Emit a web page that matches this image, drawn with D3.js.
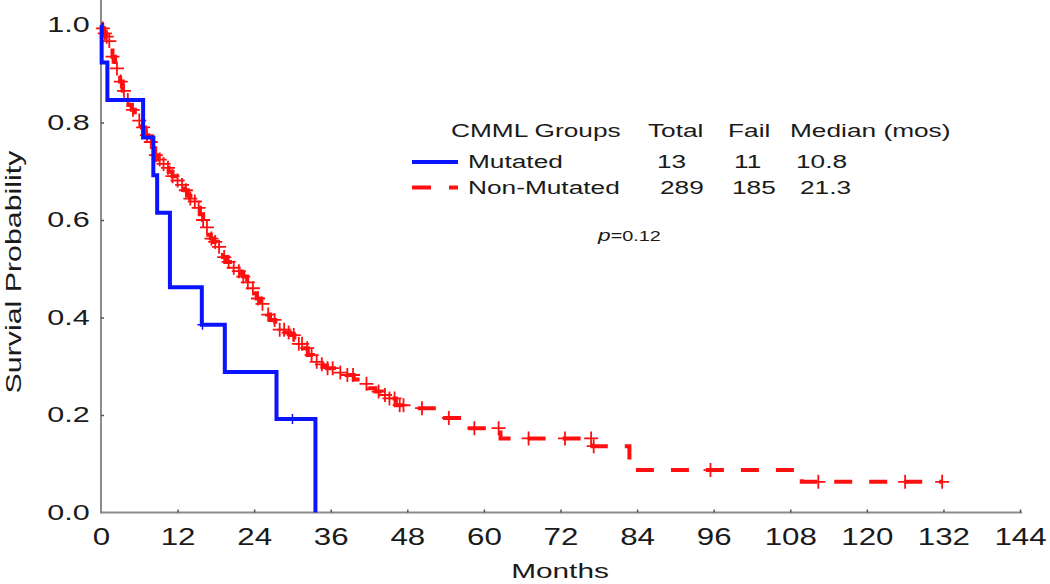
<!DOCTYPE html>
<html>
<head>
<meta charset="utf-8">
<script src="https://cdn.jsdelivr.net/npm/d3@7"></script>
<style>
  body { margin: 0; background: #fff; }
  svg text { font-family: "Liberation Sans", Arial, sans-serif; fill: #1a1a1a; }
</style>
</head>
<body>
<div id="chart"></div>
<script>
'use strict'

// Mutated group (blue), Kaplan-Meier steps
const mutTimes = [0, 0.1, 1.0, 6.6, 8.2, 8.8, 10.8, 15.8, 19.4, 27.5, 33.6]
const mutSurv = [1.0, 0.923, 0.846, 0.769, 0.692, 0.615, 0.462, 0.385, 0.288, 0.192, 0.0]
const mutCensor = [15.9, 30.0]

// Non-Mutated group (red)
const nonTimes = [0, 0.2, 0.5, 0.8, 1.1, 1.4, 1.8, 2.2, 2.6, 3.0, 3.4, 3.8, 4.3, 4.8, 5.3, 5.8,
  6.4, 6.9, 7.4, 8.0, 8.5, 9.0, 9.6, 10.1, 10.6, 11.2, 11.9, 12.6, 13.1, 13.6, 14.0, 14.5,
  15.0, 15.5, 16.0, 16.4, 16.8, 17.2, 17.6, 18.1, 18.6, 19.1, 19.7, 20.2, 20.7, 21.3, 21.8,
  22.3, 22.9, 23.5, 24.0, 24.4, 25.0, 25.5, 26.0, 26.5, 27.3, 28.0, 28.8, 29.6, 30.3, 31.0,
  31.7, 32.4, 33.2, 34.0, 34.7, 35.4, 36.5, 37.5, 38.5, 39.6, 40.8, 41.9, 43.0, 44.0, 44.8,
  46.2, 47.5, 52.5, 57.0, 62.6, 77.0, 82.8, 109.8, 131.8]
const nonSurv = [1.0, 0.993, 0.983, 0.976, 0.967, 0.959, 0.935, 0.911, 0.898, 0.884, 0.865, 0.846,
  0.836, 0.826, 0.815, 0.804, 0.790, 0.774, 0.760, 0.747, 0.733, 0.724, 0.715, 0.707, 0.699,
  0.690, 0.681, 0.672, 0.661, 0.650, 0.644, 0.638, 0.625, 0.612, 0.600, 0.585, 0.570, 0.562,
  0.555, 0.545, 0.535, 0.524, 0.514, 0.508, 0.502, 0.495, 0.490, 0.484, 0.472, 0.460, 0.450,
  0.439, 0.428, 0.418, 0.406, 0.395, 0.385, 0.375, 0.369, 0.364, 0.355, 0.346, 0.337, 0.323,
  0.309, 0.304, 0.300, 0.296, 0.292, 0.287, 0.282, 0.273, 0.264, 0.255, 0.248, 0.241, 0.234,
  0.220, 0.214, 0.194, 0.173, 0.152, 0.136, 0.087, 0.063, 0.063]
const nonCensor = [0.3, 0.6, 0.9, 1.3, 1.8, 2.5, 3.1, 3.6, 4.2, 5.0, 6.0, 6.6, 7.2, 7.8, 8.6,
  9.2, 9.8, 10.5, 11.2, 12.0, 12.7, 13.3, 14.0, 14.7, 15.3, 16.0, 16.6, 17.3, 17.9, 18.5,
  19.3, 20.0, 20.8, 21.6, 22.3, 23.0, 23.8, 24.6, 25.3, 26.2, 27.2, 28.0, 28.7, 29.4, 30.2,
  31.0, 31.5, 32.3, 33.0, 33.8, 34.6, 35.5, 36.3, 37.5, 38.6, 39.5, 41.6, 43.5, 44.5, 45.2,
  46.0, 46.8, 47.4, 50.3, 54.5, 58.5, 62.3, 67.0, 72.7, 76.8, 77.2, 95.5, 112.4, 126.0, 131.8]

const xTicks = [0, 12, 24, 36, 48, 60, 72, 84, 96, 108, 120, 132, 144]
const yTicks = [0, 0.2, 0.4, 0.6, 0.8, 1.0]

const legendHeader = ['CMML Groups', 'Total', 'Fail', 'Median (mos)']
const groups = ['Mutated', 'Non-Mutated']
const totals = [13, 289]
const fails = [11, 185]
const medians = ['10.8', '21.3']
const pValue = '0.12'

const width = 1050
const height = 584
const blue = '#0a14ff'
const red = '#ff1010'
const axisColor = '#8c8c8c'
const stretch = 1.42 // the source type is set wide

const svg = d3.select('#chart')
  .append('svg')
  .attr('width', width)
  .attr('height', height)

const x = d3.scaleLinear().domain([0, 144]).range([101, 1020])
const y = d3.scaleLinear().domain([0, 1]).range([512.5, 25])

const addText = (g, px, py, str, size, anchor) => g.append('text')
  .attr('transform', `translate(${px},${py}) scale(${stretch},1)`)
  .attr('font-size', size)
  .attr('text-anchor', anchor || 'start')
  .text(str)

// axes
const xAxis = svg.append('g')
  .attr('transform', `translate(0,${y(0)})`)
  .call(d3.axisBottom(x).tickValues(xTicks).tickSizeInner(-3).tickSizeOuter(0))
xAxis.select('.domain').attr('stroke', axisColor).attr('stroke-width', 2)
  .attr('d', `M${x(0)},0H${x(144) + 2}`)
xAxis.selectAll('.tick line').attr('stroke', '#555').attr('stroke-width', 1.5)
xAxis.selectAll('.tick text')
  .attr('font-size', 23)
  .attr('y', 32.5)
  .attr('dy', null)
  .attr('transform', 'scale(1.36,1)')

const yAxis = svg.append('g')
  .attr('transform', `translate(${x(0)},0)`)
  .call(d3.axisLeft(y).tickValues(yTicks).tickFormat(d3.format('.1f'))
    .tickSizeInner(-3).tickSizeOuter(0))
yAxis.select('.domain').attr('stroke', axisColor).attr('stroke-width', 2)
  .attr('d', `M0,${y(0) + 1}V0`)
yAxis.selectAll('.tick line').attr('stroke', '#555').attr('stroke-width', 1.5)
yAxis.selectAll('.tick text')
  .attr('font-size', 21.5)
  .attr('x', -8)
  .attr('transform', 'scale(1.42,1)')

svg.selectAll('.tick line').filter(d => d === 0).remove()

// axis titles
addText(svg, 560, 578, 'Months', 21, 'middle')

svg.append('text')
  .attr('transform', `translate(21,${272}) rotate(-90) scale(1.38,1)`)
  .attr('text-anchor', 'middle')
  .attr('font-size', 22)
  .text('Survial Probability')

// curves
const line = d3.line()
  .x(d => x(d[0]))
  .y(d => y(d[1]))
  .curve(d3.curveStepAfter)

const survAt = (times, surv, t) => {
  const i = d3.bisectRight(times, t) - 1
  return surv[Math.max(0, i)]
}

const censorPath = s => `M${-s},0H${s}M0,${-s}V${s}`

svg.append('path')
  .datum(d3.zip(nonTimes, nonSurv))
  .attr('d', line)
  .attr('fill', 'none')
  .attr('stroke', red)
  .attr('stroke-width', 4)
  .attr('stroke-dasharray', '18,17')

svg.append('g').selectAll('path')
  .data(nonCensor)
  .enter()
  .append('path')
  .attr('transform', d => `translate(${x(d)},${y(survAt(nonTimes, nonSurv, d))})`)
  .attr('d', censorPath(7))
  .attr('stroke', red)
  .attr('stroke-width', 1.8)

svg.append('path')
  .datum(d3.zip(mutTimes, mutSurv))
  .attr('d', line)
  .attr('fill', 'none')
  .attr('stroke', blue)
  .attr('stroke-width', 4)

svg.append('g').selectAll('path')
  .data(mutCensor)
  .enter()
  .append('path')
  .attr('transform', d => `translate(${x(d)},${y(survAt(mutTimes, mutSurv, d))})`)
  .attr('d', censorPath(5))
  .attr('stroke', blue)
  .attr('stroke-width', 1.5)

// legend
const legend = svg.append('g')
const colX = [451, 648, 728, 790]
legendHeader.forEach((h, i) => addText(legend, colX[i], 137, h, 18.5))

const rowY = [168, 193.5]
groups.forEach((grp, i) => {
  legend.append('line')
    .attr('x1', 412).attr('x2', 458)
    .attr('y1', rowY[i] - 6).attr('y2', rowY[i] - 6)
    .attr('stroke', i === 0 ? blue : red)
    .attr('stroke-width', 4)
    .attr('stroke-dasharray', i === 0 ? null : '19,18')
  addText(legend, 468, rowY[i], grp, 18.5)
  addText(legend, i === 0 ? 657 : 660, rowY[i], totals[i], 18.5)
  addText(legend, i === 0 ? 734 : 732, rowY[i], fails[i], 18.5)
  addText(legend, i === 0 ? 796 : 800, rowY[i], medians[i], 18.5)
})

const pText = legend.append('text')
  .attr('transform', `translate(598,241) scale(${stretch},1)`)
  .attr('font-size', 14)
pText.append('tspan').attr('font-style', 'italic').attr('font-size', 16).text('p')
pText.append('tspan').text('=' + pValue)
</script>
</body>
</html>
